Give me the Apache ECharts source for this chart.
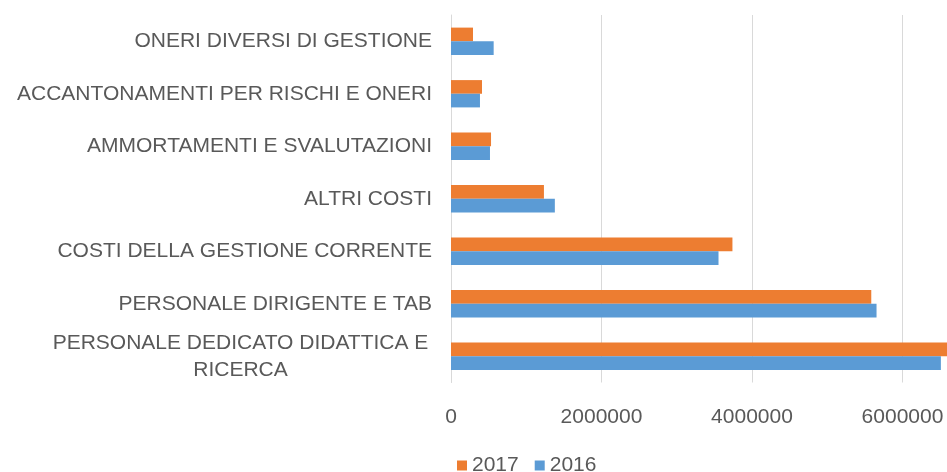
<!DOCTYPE html>
<html>
<head>
<meta charset="utf-8">
<script src="https://cdn.jsdelivr.net/npm/echarts@6/dist/echarts.min.js"></script>
<style>
  html, body { margin: 0; padding: 0; background: #fff; }
  #chart { width: 947px; height: 472px; }
</style>
</head>
<body>
<div id="chart"></div>
<script>
// categorie dal basso verso l'alto
var categories = [
    'PERSONALE DEDICATO DIDATTICA E RICERCA',
    'PERSONALE DIRIGENTE E TAB',
    'COSTI DELLA GESTIONE CORRENTE',
    'ALTRI COSTI',
    'AMMORTAMENTI E SVALUTAZIONI',
    'ACCANTONAMENTI PER RISCHI E ONERI',
    'ONERI DIVERSI DI GESTIONE'
];
var values2016 = [6510000, 5655000, 3555000, 1380000, 518000, 385000, 567000];
var values2017 = [6620000, 5585000, 3740000, 1235000, 532000, 412000, 292000];
var xTicks = [0, 2000000, 4000000, 6000000, 8000000];

var labelColor = '#595959';
var font = 'Liberation Sans, Arial, sans-serif';

var chart = echarts.init(document.getElementById('chart'));

var option = {
    animation: false,
    textStyle: { fontFamily: font },
    grid: {
        left: 451,
        width: 602,   // l'immagine originale e' tagliata a destra (8000000 fuori vista)
        top: 15,
        bottom: 89.5,
        containLabel: false,
        outerBoundsMode: 'none'
    },
    legend: {
        data: ['2017', '2016'],
        left: 452,
        top: 450,
        icon: 'rect',
        itemWidth: 10,
        itemHeight: 10,
        itemGap: 16,
        textStyle: { color: labelColor, fontSize: 21, fontFamily: font }
    },
    xAxis: {
        type: 'value',
        min: xTicks[0],
        max: xTicks[xTicks.length - 1],
        interval: 2000000,
        axisLine: { show: false },
        axisTick: { show: false },
        splitLine: { lineStyle: { color: '#d9d9d9', width: 1 } },
        axisLabel: {
            color: labelColor,
            fontSize: 21,
            fontFamily: font,
            margin: 24,
            formatter: function (v) { return String(v); }
        }
    },
    yAxis: {
        type: 'category',
        data: categories,
        axisLine: { show: true, lineStyle: { color: '#d9d9d9', width: 1 } },
        axisTick: { show: false },
        axisLabel: {
            color: labelColor,
            fontSize: 21,
            fontFamily: font,
            margin: 19,
            formatter: function (v) {
                if (v === 'PERSONALE DEDICATO DIDATTICA E RICERCA') {
                    return '{c|PERSONALE DEDICATO DIDATTICA E}\n{c|RICERCA}';
                }
                return v;
            },
            rich: {
                c: {
                    width: 383,
                    align: 'center',
                    color: labelColor,
                    fontSize: 21,
                    fontFamily: font,
                    lineHeight: 27
                }
            }
        }
    },
    series: [
        {
            name: '2017',
            type: 'bar',
            data: values2017,
            barGap: '0%',
            barCategoryGap: '48%',
            itemStyle: { color: '#ED7D31' }
        },
        {
            name: '2016',
            type: 'bar',
            data: values2016,
            barGap: '0%',
            barCategoryGap: '48%',
            itemStyle: { color: '#5B9BD5' }
        }
    ]
};

chart.setOption(option);
</script>
</body>
</html>
